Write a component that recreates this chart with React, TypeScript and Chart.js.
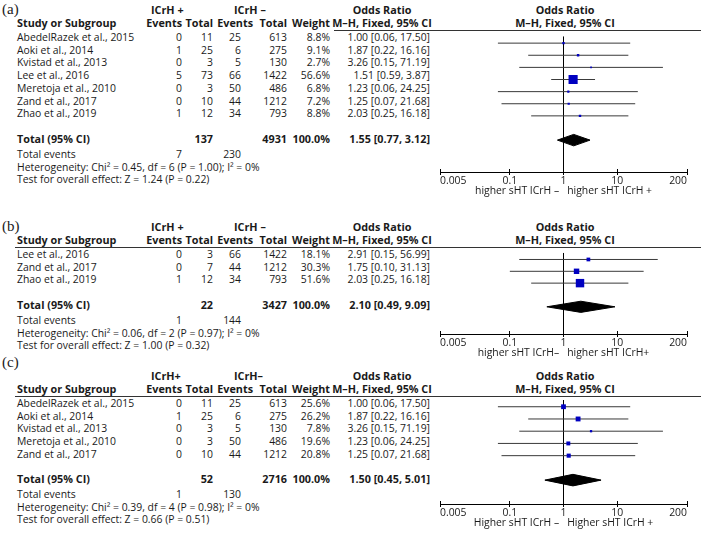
import React, { useEffect, useRef } from "react";
import { Chart, registerables } from "chart.js";
Chart.register(...registerables);

const FONT = '"Open Sans", "DejaVu Sans", sans-serif';
const SERIF = '"Liberation Serif", "DejaVu Serif", serif';
const FS = 10.4;
const BFS = 10.8;
const W = 701;
const ROW_H = 12.7;
const TXT = "#1a1a1a";

const TICK_VALUES = [0.005, 0.1, 1, 10, 200];
const TICK_LABELS = ["0.005", "0.1", "1", "10", "200"];

// ---------- Panel (a) ----------
const studiesA = ["AbedelRazek et al., 2015", "Aoki et al., 2014", "Kvistad et al., 2013", "Lee et al., 2016", "Meretoja et al., 2010", "Zand et al., 2017", "Zhao et al., 2019"];
const eventsPosA = [0, 1, 0, 5, 0, 0, 1];
const totalPosA = [11, 25, 3, 73, 3, 10, 12];
const eventsNegA = [25, 6, 5, 66, 50, 44, 34];
const totalNegA = [613, 275, 130, 1422, 486, 1212, 793];
const weightA = [8.8, 9.1, 2.7, 56.6, 6.8, 7.2, 8.8];
const orA = [1.0, 1.87, 3.26, 1.51, 1.23, 1.25, 2.03];
const loA = [0.06, 0.22, 0.15, 0.59, 0.06, 0.07, 0.25];
const hiA = [17.5, 16.16, 71.19, 3.87, 24.25, 21.68, 16.18];
const sumsA = [137, 4931];
const eventSumsA = [7, 230];
const pooledA = [1.55, 0.77, 3.12];
const hetA = [0.45, 6, 1.0, 0];
const zTestA = [1.24, 0.22];

// ---------- Panel (b) ----------
const studiesB = ["Lee et al., 2016", "Zand et al., 2017", "Zhao et al., 2019"];
const eventsPosB = [0, 0, 1];
const totalPosB = [3, 7, 12];
const eventsNegB = [66, 44, 34];
const totalNegB = [1422, 1212, 793];
const weightB = [18.1, 30.3, 51.6];
const orB = [2.91, 1.75, 2.03];
const loB = [0.15, 0.1, 0.25];
const hiB = [56.99, 31.13, 16.18];
const sumsB = [22, 3427];
const eventSumsB = [1, 144];
const pooledB = [2.1, 0.49, 9.09];
const hetB = [0.06, 2, 0.97, 0];
const zTestB = [1.0, 0.32];

// ---------- Panel (c) ----------
const studiesC = ["AbedelRazek et al., 2015", "Aoki et al., 2014", "Kvistad et al., 2013", "Meretoja et al., 2010", "Zand et al., 2017"];
const eventsPosC = [0, 1, 0, 0, 0];
const totalPosC = [11, 25, 3, 3, 10];
const eventsNegC = [25, 6, 5, 50, 44];
const totalNegC = [613, 275, 130, 486, 1212];
const weightC = [25.6, 26.2, 7.8, 19.6, 20.8];
const orC = [1.0, 1.87, 3.26, 1.23, 1.25];
const loC = [0.06, 0.22, 0.15, 0.06, 0.07];
const hiC = [17.5, 16.16, 71.19, 24.25, 21.68];
const sumsC = [52, 2716];
const eventSumsC = [1, 130];
const pooledC = [1.5, 0.45, 5.01];
const hetC = [0.39, 4, 0.98, 0];
const zTestC = [0.66, 0.51];

type PanelData = {
  tag: string; tagY: number; row0: number; axisY: number; ruleX0: number;
  grp1: string; grp2: string; capL: string; capR: string;
  studies: string[]; ePos: number[]; tPos: number[]; eNeg: number[]; tNeg: number[];
  weight: number[]; or: number[]; lo: number[]; hi: number[];
  sums: number[]; eventSums: number[]; pooled: number[]; het: number[]; zTest: number[];
};

const panels: PanelData[] = [
  { tag: "(a)", tagY: 9, row0: 37, axisY: 172, ruleX0: 334, grp1: "ICrH +", grp2: "ICrH \u2013",
    capL: "higher sHT ICrH \u2013", capR: "higher sHT ICrH +",
    studies: studiesA, ePos: eventsPosA, tPos: totalPosA, eNeg: eventsNegA, tNeg: totalNegA,
    weight: weightA, or: orA, lo: loA, hi: hiA, sums: sumsA, eventSums: eventSumsA, pooled: pooledA, het: hetA, zTest: zTestA },
  { tag: "(b)", tagY: 226, row0: 254, axisY: 334, ruleX0: 15, grp1: "ICrH +", grp2: "ICrH \u2013",
    capL: "higher sHT ICrH\u2013", capR: "higher sHT ICrH+",
    studies: studiesB, ePos: eventsPosB, tPos: totalPosB, eNeg: eventsNegB, tNeg: totalNegB,
    weight: weightB, or: orB, lo: loB, hi: hiB, sums: sumsB, eventSums: eventSumsB, pooled: pooledB, het: hetB, zTest: zTestB },
  { tag: "(c)", tagY: 362, row0: 403, axisY: 504, ruleX0: 15, grp1: "ICrH+", grp2: "ICrH\u2013",
    capL: "Higher sHT ICrH \u2013", capR: "Higher sHT ICrH +",
    studies: studiesC, ePos: eventsPosC, tPos: totalPosC, eNeg: eventsNegC, tNeg: totalNegC,
    weight: weightC, or: orC, lo: loC, hi: hiC, sums: sumsC, eventSums: eventSumsC, pooled: pooledC, het: hetC, zTest: zTestC },
];

// column positions
const X_NAME = 17;
const X_EPOS = 182;
const X_TPOS = 213;
const X_ENEG = 241;
const X_ENEG_HEAD = 253;
const X_TNEG = 287;
const X_WEIGHT = 330;
const X_OR = 430;
const X_OR_HEAD = 382;
const X_PLOT_HEAD = 565;
const X_GRP1 = 151;
const X_GRP2 = 234;

const CANVAS_LEFT = 420;
const PAD_L = 20;
const PAD_R = 14;
const AXIS_H = 25;

function Txt(props: { x: number; y: number; a?: string; b?: boolean; fs?: number; fam?: string; children: any }) {
  const { x, y, a = "left", b = false, fam = FONT } = props;
  const fs = props.fs ?? (b ? BFS : FS);
  const style: any = {
    position: "absolute", top: y - 6, height: 12, lineHeight: "12px",
    fontFamily: fam, fontSize: fs, fontWeight: b ? "bold" : "normal",
    whiteSpace: "pre", color: TXT,
  };
  if (a === "left") style.left = x;
  else if (a === "right") style.right = W - x;
  else { style.left = x - 150; style.width = 300; style.textAlign = "center"; }
  return <div style={style}>{props.children}</div>;
}

const ciText = (o: number, l: number, h: number) => `${o.toFixed(2)} [${l.toFixed(2)}, ${h.toFixed(2)}]`;

const tickUp = {
  id: "tickUp",
  afterDraw(chart: any) {
    const s = chart.scales.x;
    const ctx = chart.ctx;
    const y = chart.chartArea.bottom;
    ctx.save();
    ctx.strokeStyle = "#000";
    ctx.lineWidth = 1;
    s.ticks.forEach((t: any) => {
      const px = Math.round(s.getPixelForValue(t.value) - 0.5) + 0.5;
      ctx.beginPath();
      ctx.moveTo(px, y - 3);
      ctx.lineTo(px, y);
      ctx.stroke();
    });
    ctx.restore();
  },
};

function ForestPlot({ p }: { p: PanelData }) {
  const ref = useRef<HTMLCanvasElement | null>(null);
  const ruleY = p.row0 - 7;
  const height = p.axisY - ruleY + AXIS_H;
  const width = W - CANVAS_LEFT;

  useEffect(() => {
    if (!ref.current) return;
    const n = p.studies.length;
    const totalIdx = n + 1;
    const hh = 6 / ROW_H;
    const datasets: any[] = [];
    datasets.push({
      type: "scatter",
      data: p.or.map((v, i) => ({ x: v, y: i })),
      pointStyle: "rect",
      pointRadius: p.weight.map((w) => (1.2 + 0.14 * w) / Math.SQRT2),
      backgroundColor: "#0000c0",
      borderWidth: 0,
      order: 0,
    });
    p.studies.forEach((_, i) => {
      datasets.push({
        type: "line",
        data: [{ x: p.lo[i], y: i }, { x: p.hi[i], y: i }],
        borderColor: "#3a3a3a", borderWidth: 1, pointRadius: 0, fill: false, order: 1,
      });
    });
    const [po, pl, ph] = p.pooled;
    datasets.push({
      type: "line",
      data: [{ x: pl, y: totalIdx }, { x: po, y: totalIdx - hh }, { x: ph, y: totalIdx }],
      borderColor: "#000", backgroundColor: "#000", borderWidth: 1, pointRadius: 0, fill: "+1", order: 1,
    });
    datasets.push({
      type: "line",
      data: [{ x: pl, y: totalIdx }, { x: po, y: totalIdx + hh }, { x: ph, y: totalIdx }],
      borderColor: "#000", borderWidth: 1, pointRadius: 0, fill: false, order: 1,
    });

    const chart = new Chart(ref.current, {
      type: "scatter",
      data: { datasets },
      options: {
        responsive: false,
        animation: false,
        events: [],
        layout: { padding: { left: PAD_L, right: PAD_R, top: 0, bottom: 0 } },
        plugins: { legend: { display: false }, tooltip: { enabled: false } },
        scales: {
          x: {
            type: "logarithmic",
            min: TICK_VALUES[0],
            max: TICK_VALUES[TICK_VALUES.length - 1],
            position: "bottom",
            afterBuildTicks: (s: any) => { s.ticks = TICK_VALUES.map((v) => ({ value: v })); },
            afterFit: (s: any) => { s.height = AXIS_H; },
            ticks: {
              autoSkip: false, maxRotation: 0, minRotation: 0, padding: 0, color: TXT, align: "inner",
              font: { family: FONT, size: FS },
              callback: (_v: any, i: number) => TICK_LABELS[i],
            },
            grid: {
              drawOnChartArea: true, drawTicks: true, tickLength: 3, tickColor: "#000", lineWidth: 1,
              color: (c: any) => (c.tick && c.tick.value === 1 ? "#000" : "rgba(0,0,0,0)"),
            },
            border: { display: true, color: "#000", width: 1 },
            title: {
              display: true, text: p.capL + "   " + p.capR, color: TXT,
              font: { family: FONT, size: FS }, padding: { top: 0, bottom: 0 },
            },
          },
          y: {
            type: "linear", display: false, reverse: true,
            min: -7 / ROW_H, max: (p.axisY - p.row0) / ROW_H,
          },
        },
      } as any,
      plugins: [tickUp],
    });
    return () => chart.destroy();
  }, []);

  return (
    <canvas
      ref={ref}
      width={width}
      height={height}
      style={{ position: "absolute", left: CANVAS_LEFT, top: ruleY, width, height }}
    />
  );
}

function Panel({ p }: { p: PanelData }) {
  const r0 = p.row0;
  const h1 = r0 - 27.5;
  const h2 = r0 - 14;
  const ruleY = r0 - 7;
  const n = p.studies.length;
  const tot = r0 + (n + 1) * ROW_H;
  const items: any[] = [];
  items.push(<Txt key="tag" x={2} y={p.tagY} fs={15} fam={SERIF}>{p.tag}</Txt>);
  items.push(<Txt key="g1" x={X_GRP1} y={h1} b>{p.grp1}</Txt>);
  items.push(<Txt key="g2" x={X_GRP2} y={h1} b>{p.grp2}</Txt>);
  items.push(<Txt key="or1" x={X_OR_HEAD} y={h1} a="center" b>Odds Ratio</Txt>);
  items.push(<Txt key="or2" x={X_PLOT_HEAD} y={h1} a="center" b>Odds Ratio</Txt>);
  items.push(<Txt key="s" x={X_NAME} y={h2} b>Study or Subgroup</Txt>);
  items.push(<Txt key="e1" x={X_EPOS} y={h2} a="right" b>Events</Txt>);
  items.push(<Txt key="t1" x={X_TPOS} y={h2} a="right" b>Total</Txt>);
  items.push(<Txt key="e2" x={X_ENEG_HEAD} y={h2} a="right" b>Events</Txt>);
  items.push(<Txt key="t2" x={X_TNEG} y={h2} a="right" b>Total</Txt>);
  items.push(<Txt key="w" x={X_WEIGHT} y={h2} a="right" b>Weight</Txt>);
  items.push(<Txt key="mh1" x={X_OR_HEAD} y={h2} a="center" b>{"M\u2013H, Fixed, 95% CI"}</Txt>);
  items.push(<Txt key="mh2" x={X_PLOT_HEAD} y={h2} a="center" b>{"M\u2013H, Fixed, 95% CI"}</Txt>);
  p.studies.forEach((s, i) => {
    const y = r0 + i * ROW_H;
    items.push(<Txt key={"n" + i} x={X_NAME} y={y}>{s}</Txt>);
    items.push(<Txt key={"ep" + i} x={X_EPOS} y={y} a="right">{String(p.ePos[i])}</Txt>);
    items.push(<Txt key={"tp" + i} x={X_TPOS} y={y} a="right">{String(p.tPos[i])}</Txt>);
    items.push(<Txt key={"en" + i} x={X_ENEG} y={y} a="right">{String(p.eNeg[i])}</Txt>);
    items.push(<Txt key={"tn" + i} x={X_TNEG} y={y} a="right">{String(p.tNeg[i])}</Txt>);
    items.push(<Txt key={"w" + i} x={X_WEIGHT} y={y} a="right">{p.weight[i].toFixed(1) + "%"}</Txt>);
    items.push(<Txt key={"c" + i} x={X_OR} y={y} a="right">{ciText(p.or[i], p.lo[i], p.hi[i])}</Txt>);
  });
  items.push(<Txt key="tt" x={X_NAME} y={tot} b>Total (95% CI)</Txt>);
  items.push(<Txt key="ts1" x={X_TPOS} y={tot} a="right" b>{String(p.sums[0])}</Txt>);
  items.push(<Txt key="ts2" x={X_TNEG} y={tot} a="right" b>{String(p.sums[1])}</Txt>);
  items.push(<Txt key="tw" x={X_WEIGHT} y={tot} a="right" b>100.0%</Txt>);
  items.push(<Txt key="tc" x={X_OR} y={tot} a="right" b>{ciText(p.pooled[0], p.pooled[1], p.pooled[2])}</Txt>);
  items.push(<Txt key="te" x={X_NAME} y={tot + 15}>Total events</Txt>);
  items.push(<Txt key="te1" x={X_EPOS} y={tot + 15} a="right">{String(p.eventSums[0])}</Txt>);
  items.push(<Txt key="te2" x={X_ENEG} y={tot + 15} a="right">{String(p.eventSums[1])}</Txt>);
  const [chi, df, ph, i2] = p.het;
  items.push(<Txt key="het" x={X_NAME} y={tot + 28}>{`Heterogeneity: Chi\u00b2 = ${chi.toFixed(2)}, df = ${df} (P = ${ph.toFixed(2)}); I\u00b2 = ${i2}%`}</Txt>);
  items.push(<Txt key="z" x={X_NAME} y={tot + 40}>{`Test for overall effect: Z = ${p.zTest[0].toFixed(2)} (P = ${p.zTest[1].toFixed(2)})`}</Txt>);
  items.push(<div key="rule" style={{ position: "absolute", left: p.ruleX0, top: ruleY, width: W - p.ruleX0, height: 1, background: "#333" }} />);
  return (
    <>
      {items}
      <ForestPlot p={p} />
    </>
  );
}

export default function App() {
  return (
    <div style={{ position: "absolute", left: 0, top: 0, width: W, height: 534, overflow: "hidden", background: "#fff" }}>
      {panels.map((p) => <Panel key={p.tag} p={p} />)}
    </div>
  );
}
